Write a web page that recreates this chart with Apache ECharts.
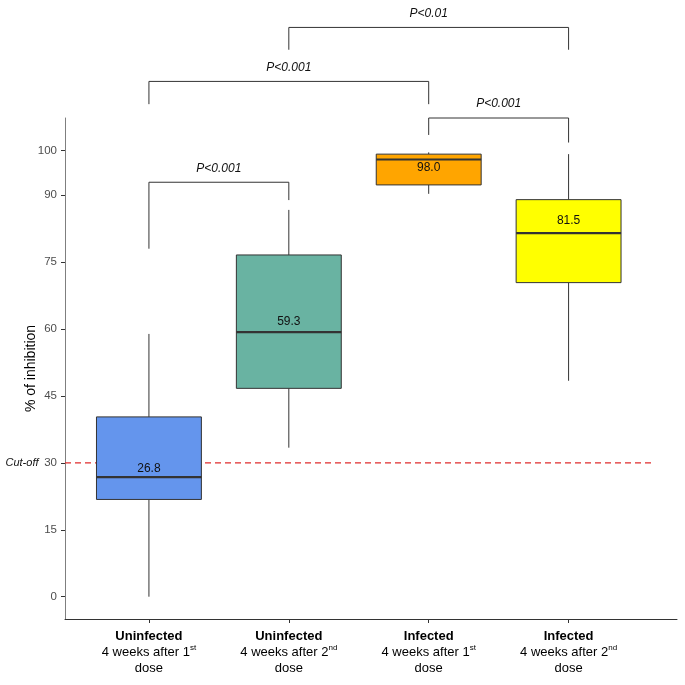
<!DOCTYPE html>
<html><head><meta charset="utf-8">
<script src="https://cdn.jsdelivr.net/npm/echarts@6/dist/echarts.min.js"></script>
<style>html,body{margin:0;padding:0;background:#fff}#c{width:685px;height:685px}</style>
</head><body><div id="c"></div>
<script>
// ---- data ----
const groupNames = ['Uninfected', 'Uninfected', 'Infected', 'Infected'];
const doseOrdinal = ['1', '2', '1', '2'];
const doseSuffix = ['st', 'nd', 'st', 'nd'];
const boxMin = [0, 33.4, 90.3, 48.4];
const boxQ1 = [21.8, 46.7, 92.3, 70.4];
const boxMedian = [26.8, 59.3, 98.0, 81.5];
const boxQ3 = [40.3, 76.6, 99.2, 89.0];
const boxMax = [58.9, 86.7, 99.6, 99.2];
const boxColors = ['#6495ED', '#69B3A2', '#FFA500', '#FFFF00'];
const yTicks = [0, 15, 30, 45, 60, 75, 90, 100];
const cutoff = 30;
const cutoffLabel = 'Cut-off';
const bracketFrom = [1, 1, 3, 2];
const bracketTo = [2, 3, 4, 4];
const bracketTop = [92.9, 115.5, 107.3, 127.6];
const bracketLeftEnd = [78.0, 110.4, 103.5, 122.6];
const bracketRightEnd = [88.9, 110.4, 101.8, 122.6];
const bracketLabel = ['P<0.001', 'P<0.001', 'P<0.001', 'P<0.01'];

const FONT = '"Liberation Sans", Arial, sans-serif';
const labelShift = [-8, -10.6, 7.7, -12.3];

const boxData = groupNames.map((g, i) => [i + 1, boxMin[i], boxQ1[i], boxMedian[i], boxQ3[i], boxMax[i]]);
const bracketData = bracketFrom.map((f, i) => [f, bracketTo[i], bracketTop[i], bracketLeftEnd[i], bracketRightEnd[i]]);
const catValues = groupNames.map((g, i) => i + 1);

const chart = echarts.init(document.getElementById('c'), null, {renderer: 'canvas'});
chart.setOption({
  backgroundColor: '#fff',
  animation: false,
  grid: {left: 65, right: 8, top: 118, bottom: 66, outerBoundsMode: 'none'},
  xAxis: {
    type: 'value', min: 0.4, max: 4.775,
    splitLine: {show: false},
    axisLine: {show: true, onZero: false, lineStyle: {color: '#333', width: 1}},
    axisTick: {show: true, customValues: catValues, length: 4, lineStyle: {color: '#333'}},
    axisLabel: {
      customValues: catValues, margin: 9, color: '#000', fontFamily: FONT,
      formatter: function (v) {
        const i = Math.round(v) - 1;
        return '{b|' + groupNames[i] + '}\n{n|4 weeks after ' + doseOrdinal[i] + '}{s|' + doseSuffix[i] + '}\n{n|dose}';
      },
      rich: {
        b: {fontWeight: 'bold', fontSize: 13, lineHeight: 16, color: '#000', fontFamily: FONT},
        n: {fontSize: 13, lineHeight: 16, color: '#000', fontFamily: FONT},
        s: {fontSize: 8, lineHeight: 16, color: '#000', fontFamily: FONT, verticalAlign: 'top'}
      }
    }
  },
  yAxis: {
    type: 'value', min: -5, max: 107.3,
    name: '% of inhibition', nameLocation: 'middle', nameGap: 27, nameMoveOverlap: false,
    nameTextStyle: {fontSize: 14, color: '#000', fontFamily: FONT},
    splitLine: {show: false},
    axisLine: {show: true, onZero: false, lineStyle: {color: '#7f7f7f', width: 1}},
    axisTick: {show: true, customValues: yTicks, length: 4, lineStyle: {color: '#333'}},
    axisLabel: {customValues: yTicks, margin: 8, color: '#4d4d4d', fontSize: 11.5, fontFamily: FONT}
  },
  series: [
    {
      type: 'custom', clip: false, silent: true,
      data: [[cutoff]],
      renderItem: function (params, api) {
        const y = api.value(0);
        const p0 = api.coord([0.4, y]);
        const p1 = api.coord([4.6, y]);
        return {type: 'group', children: [
          {type: 'line', shape: {x1: p0[0], y1: p0[1], x2: p1[0], y2: p1[1]},
           style: {stroke: '#E02C2C', lineWidth: 1.1, lineDash: [6, 4]}},
          {type: 'text', x: p0[0] - 43, y: p0[1],
           style: {text: cutoffLabel, fill: '#111', font: 'italic 11px ' + FONT, align: 'center', verticalAlign: 'middle'}}
        ]};
      }
    },
    {
      type: 'custom', clip: false, silent: true,
      data: boxData,
      renderItem: function (params, api) {
        const i = params.dataIndex;
        const x = api.value(0);
        const pMin = api.coord([x, api.value(1)]);
        const pQ1 = api.coord([x, api.value(2)]);
        const md = api.value(3);
        const pMd = api.coord([x, md]);
        const pQ3 = api.coord([x, api.value(4)]);
        const pMax = api.coord([x, api.value(5)]);
        const halfW = api.size([0.75, 0])[0] / 2;
        const cx = pMd[0];
        return {type: 'group', children: [
          {type: 'line', shape: {x1: cx, y1: pQ3[1], x2: cx, y2: pMax[1]}, style: {stroke: '#333', lineWidth: 1}},
          {type: 'line', shape: {x1: cx, y1: pQ1[1], x2: cx, y2: pMin[1]}, style: {stroke: '#333', lineWidth: 1}},
          {type: 'rect', shape: {x: cx - halfW, y: pQ3[1], width: 2 * halfW, height: pQ1[1] - pQ3[1]},
           style: {fill: boxColors[i], stroke: '#333', lineWidth: 1}},
          {type: 'line', shape: {x1: cx - halfW, y1: pMd[1], x2: cx + halfW, y2: pMd[1]}, style: {stroke: '#333', lineWidth: 2.2}},
          {type: 'text', x: cx, y: pMd[1] + labelShift[i],
           style: {text: md.toFixed(1), fill: '#111', font: '12px ' + FONT, align: 'center', verticalAlign: 'middle'}}
        ]};
      }
    },
    {
      type: 'custom', clip: false, silent: true,
      data: bracketData,
      renderItem: function (params, api) {
        const i = params.dataIndex;
        const a = api.value(0), b = api.value(1), top = api.value(2);
        const p1 = api.coord([a, api.value(3)]);
        const p2 = api.coord([a, top]);
        const p3 = api.coord([b, top]);
        const p4 = api.coord([b, api.value(4)]);
        return {type: 'group', children: [
          {type: 'polyline', shape: {points: [p1, p2, p3, p4]}, style: {stroke: '#333', lineWidth: 1, fill: null}},
          {type: 'text', x: (p2[0] + p3[0]) / 2, y: p2[1] - 14,
           style: {text: bracketLabel[i], fill: '#111', font: 'italic 12px ' + FONT, align: 'center', verticalAlign: 'middle'}}
        ]};
      }
    }
  ]
});
</script></body></html>
